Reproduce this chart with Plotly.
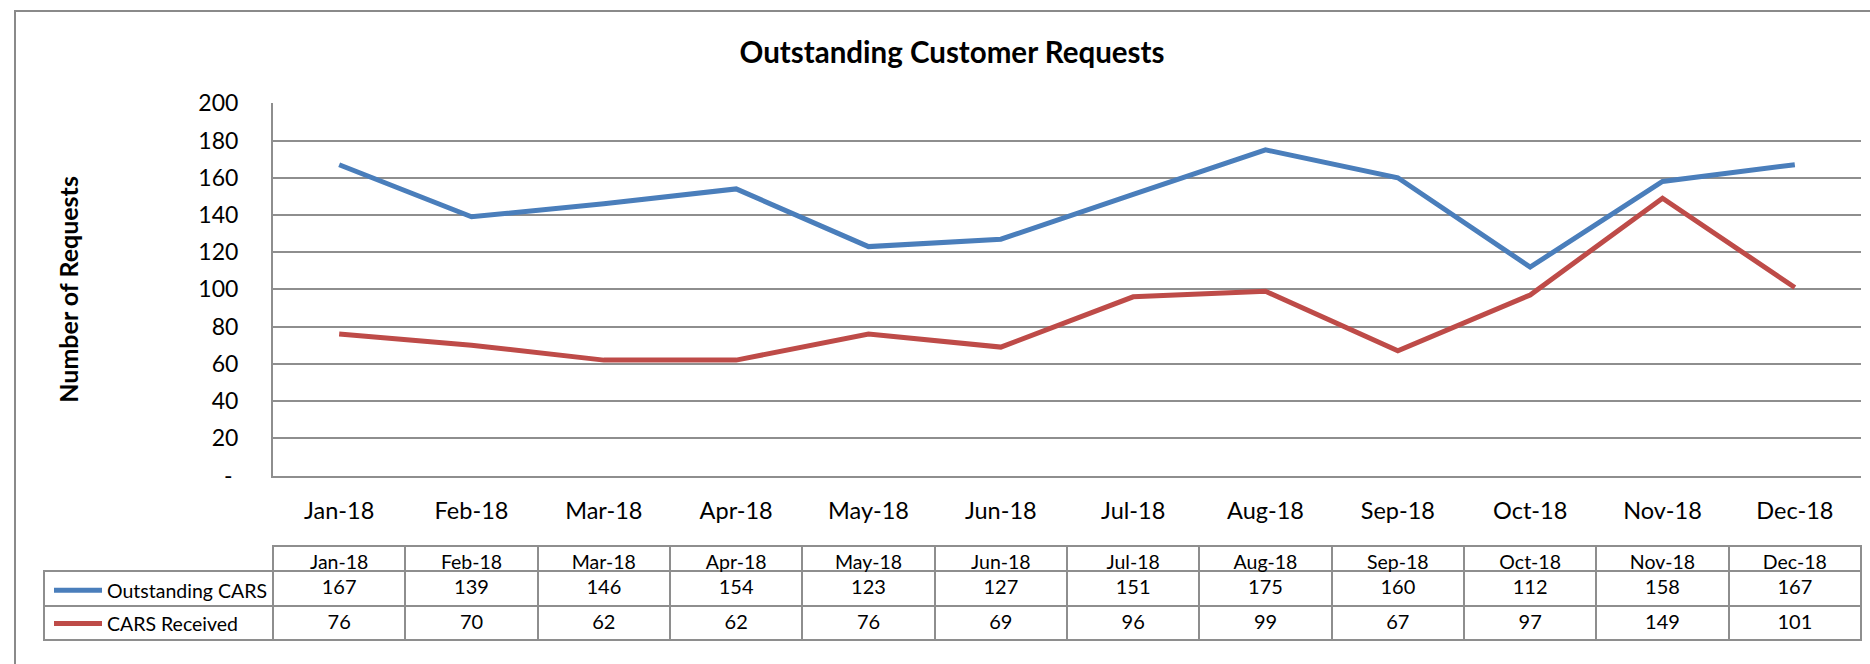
import plotly.graph_objects as go

# ---------------- data ----------------
months = ["Jan-18", "Feb-18", "Mar-18", "Apr-18", "May-18", "Jun-18",
          "Jul-18", "Aug-18", "Sep-18", "Oct-18", "Nov-18", "Dec-18"]
outstanding_cars = [167, 139, 146, 154, 123, 127, 151, 175, 160, 112, 158, 167]
cars_received = [76, 70, 62, 62, 76, 69, 96, 99, 67, 97, 149, 101]
series_names = ["Outstanding CARS", "CARS Received"]
y_tickvals = [0, 20, 40, 60, 80, 100, 120, 140, 160, 180, 200]
y_ticktext = ["-\u00a0", "20", "40", "60", "80", "100", "120", "140", "160", "180", "200"]

# ---------------- style ----------------
W, H = 1870, 664
BLUE = "#4A7EBB"
RED = "#BE4B48"
GRID = "#8E8E8E"
FONT = "Lato"

def px_x(v):
    return v / W

def px_y(v):
    return (H - v) / H

fig = go.Figure()

fig.add_trace(go.Scatter(
    x=months, y=outstanding_cars, name=series_names[0], mode="lines",
    line=dict(color=BLUE, width=5), legendgroup="a", hoverinfo="skip"))
fig.add_trace(go.Scatter(
    x=months, y=cars_received, name=series_names[1], mode="lines",
    line=dict(color=RED, width=5), legendgroup="b", hoverinfo="skip"))

# data table below the chart
ncol = len(months)
line_colors = ["rgba(0,0,0,0)"] + [GRID] * ncol
fig.add_trace(go.Table(
    domain=dict(x=[px_x(44), px_x(1861)], y=[px_y(660), px_y(546)]),
    columnwidth=[229] + [132.33] * ncol,
    header=dict(
        values=[""] + months,
        height=25,
        align="center",
        line=dict(color=line_colors, width=2),
        fill=dict(color="rgba(0,0,0,0)"),
        font=dict(family=FONT, size=19.5, color="black"),
    ),
    cells=dict(
        values=[["", ""]] + [[o, r] for o, r in zip(outstanding_cars, cars_received)],
        height=34.7,
        align="center",
        line=dict(color=GRID, width=2),
        fill=dict(color="white"),
        font=dict(family=FONT, size=20, color="black"),
    ),
))

fig.update_layout(
    width=W, height=H,
    margin=dict(l=0, r=0, t=0, b=0, autoexpand=False),
    paper_bgcolor="white", plot_bgcolor="white",
    font=dict(family=FONT, color="black"),
    title=dict(text="<b>Outstanding Customer Requests</b>",
               x=px_x(952), xanchor="center", y=px_y(53), yanchor="middle",
               font=dict(family=FONT, size=29.5, color="black")),
    showlegend=True,
    legend=dict(x=px_x(49), xanchor="left", y=px_y(571), yanchor="top",
                bgcolor="rgba(0,0,0,0)", font=dict(family=FONT, size=19.5, color="black"),
                tracegroupgap=5, itemwidth=48),
    xaxis=dict(domain=[px_x(273), px_x(1861)], type="category", range=[-0.5, 11.5],
               automargin=False,
               showgrid=False, showline=True, linecolor=GRID, linewidth=2,
               ticks="", ticklabelstandoff=13,
               tickfont=dict(family=FONT, size=23.5, color="black"), fixedrange=True),
    yaxis=dict(domain=[px_y(475.5), px_y(103.3)], range=[0, 200],
               automargin=False,
               tickvals=y_tickvals, ticktext=y_ticktext,
               showgrid=True, gridcolor=GRID, gridwidth=2,
               showline=True, linecolor=GRID, linewidth=2, zeroline=False,
               ticks="", ticklabelstandoff=28,
               tickfont=dict(family=FONT, size=23, color="black"),
               title=dict(text="<b>Number of Requests</b>", standoff=113,
                          font=dict(family=FONT, size=25, color="black")),
               fixedrange=True),
    shapes=[dict(type="rect", xref="paper", yref="paper",
                 x0=px_x(15), x1=1.05, y0=-0.05, y1=px_y(11),
                 line=dict(color="#8A8A8A", width=2), fillcolor="rgba(0,0,0,0)",
                 layer="below")],
)

fig.write_html("out.html", config={"displayModeBar": False, "staticPlot": True},
               post_script="document.body.style.margin='0';document.body.style.overflow='hidden';")
